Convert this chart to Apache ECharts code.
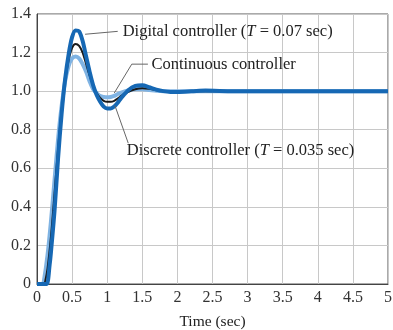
<!DOCTYPE html>
<html><head><meta charset="utf-8">
<script src="https://cdn.jsdelivr.net/npm/echarts@6/dist/echarts.min.js"></script>
<style>html,body{margin:0;padding:0;background:#fff}#c{width:393px;height:330px}</style>
</head><body><div id="c"></div>
<script>
// Time samples (sec)
const tDigital = [0,0.1,0.14,0.18,0.2,0.25,0.3,0.35,0.4,0.45,0.5,0.55,0.6,0.65,0.7,0.75,0.8,0.85,0.9,0.95,1.0,1.05,1.1,1.15,1.2,1.3,1.4,1.5,1.6,1.7,1.8,1.9,2.0,2.2,2.4,2.6,2.8,3.0,4.0,5.0];
const yDigital = [0,0,0,0.1,0.17,0.38,0.65,0.88,1.06,1.19,1.28,1.315,1.31,1.26,1.18,1.10,1.03,0.98,0.945,0.92,0.91,0.91,0.92,0.94,0.965,1.005,1.027,1.03,1.02,1.008,1.0,0.996,0.996,0.999,1.003,1.001,1.0,1.0,1.0,1.0];
const tContinuous = [0,0.1,0.12,0.15,0.2,0.25,0.3,0.35,0.4,0.45,0.5,0.55,0.6,0.65,0.7,0.75,0.8,0.85,0.9,0.95,1.0,1.05,1.1,1.15,1.2,1.3,1.4,1.5,1.6,1.7,1.8,1.9,2.0,2.2,3.0,4.0,5.0];
const yContinuous = [0,0,0.02,0.08,0.25,0.47,0.7,0.9,1.05,1.16,1.225,1.245,1.235,1.2,1.14,1.08,1.03,0.99,0.965,0.95,0.945,0.945,0.95,0.962,0.975,0.996,1.01,1.015,1.012,1.005,1.0,0.998,0.998,1.0,1.0,1.0,1.0];
const tDiscrete = [0,0.08,0.1,0.15,0.2,0.25,0.3,0.35,0.4,0.45,0.5,0.55,0.6,0.65,0.7,0.75,0.8,0.85,0.9,0.95,1.0,1.05,1.1,1.15,1.2,1.3,1.4,1.5,1.6,1.7,1.8,2.0,3.0,4.0,5.0];
const yDiscrete = [0,0,0.02,0.15,0.33,0.54,0.75,0.92,1.05,1.13,1.17,1.18,1.17,1.14,1.1,1.05,1.01,0.99,0.975,0.97,0.968,0.97,0.975,0.985,0.992,1.003,1.01,1.01,1.006,1.002,1.0,1.0,1.0,1.0,1.0];
const xTicks = [0,0.5,1,1.5,2,2.5,3,3.5,4,4.5,5];
const yTicks = [0,0.2,0.4,0.6,0.8,1.0,1.2,1.4];
const labelDigital = 'Digital controller';
const labelContinuous = 'Continuous controller';
const labelDiscrete = 'Discrete controller';

const zip = (a,b)=>a.map((v,i)=>[v,b[i]]);
const font = 'Liberation Serif';
const FS = 16;
const chart = echarts.init(document.getElementById('c'));
chart.setOption({
  animation:false,
  grid:{left:37,right:5,top:14,bottom:46,show:true,borderColor:'#555',borderWidth:1,outerBoundsMode:'none',containLabel:false},
  xAxis:{type:'value',min:0,max:5,interval:0.5,
    name:'Time (sec)',nameLocation:'middle',nameGap:30,
    nameTextStyle:{fontFamily:font,fontSize:15.5,color:'#222'},
    axisLine:{show:true,lineStyle:{color:'#444'}},axisTick:{show:false},
    axisLabel:{fontFamily:font,fontSize:FS,color:'#333',margin:6,formatter:v=>String(v)},
    splitLine:{lineStyle:{color:'#c8c8c8'}}},
  yAxis:{type:'value',min:0,max:1.4,interval:0.2,
    axisLine:{show:true,lineStyle:{color:'#444'}},axisTick:{show:false},
    axisLabel:{fontFamily:font,fontSize:FS,color:'#333',margin:6,formatter:v=>v===0?'0':v.toFixed(1)},
    splitLine:{lineStyle:{color:'#c8c8c8'}}},
  series:[
    {type:'line',data:zip(tDiscrete,yDiscrete),showSymbol:false,smooth:0.3,lineStyle:{color:'#7fb3e3',width:4},z:2},
    {type:'line',data:zip(tContinuous,yContinuous),showSymbol:false,smooth:0.3,lineStyle:{color:'#1a1a1a',width:2},z:3},
    {type:'line',data:zip(tDigital,yDigital),showSymbol:false,smooth:0.3,lineStyle:{color:'#1668b4',width:4},z:4}
  ]
});
function P(x,y){return chart.convertToPixel({gridIndex:0},[x,y]);}
const AFS = 16.5;
const rich = {n:{fontFamily:font,fontSize:AFS,fill:'#222'},i:{fontFamily:font,fontSize:AFS,fontStyle:'italic',fill:'#222'}};
function txt(pos,name,extra){
  return {type:'text',x:pos[0],y:pos[1],z:10,style:{
    text:'{n|'+name+'}'+(extra?'{n| (}{i|T}{n| = '+extra+' sec)}':''),
    rich:rich,fontFamily:font,fontSize:AFS,fill:'#222',verticalAlign:'middle',align:'left'}};
}
function line(pts){return {type:'polyline',z:9,shape:{points:pts},style:{stroke:'#666',lineWidth:1,fill:null}};}
chart.setOption({graphic:[
  line([P(0.685,1.295),P(1.15,1.31)]),
  txt(P(1.22,1.307),labelDigital,'0.07'),
  line([P(1.58,1.14),P(1.35,1.14),P(1.10,0.99)]),
  txt(P(1.63,1.135),labelContinuous,null),
  line([P(1.11,0.925),P(1.30,0.73)]),
  txt(P(1.28,0.69),labelDiscrete,'0.035')
]});
</script></body></html>
